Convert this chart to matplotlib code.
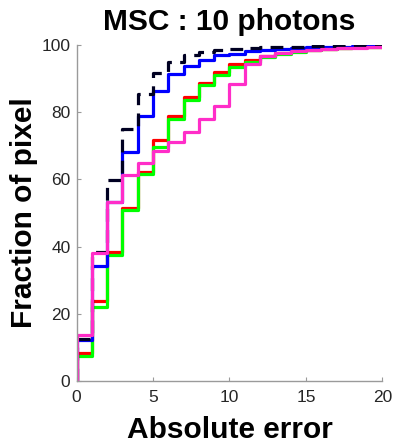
import matplotlib
matplotlib.use("Agg")
import matplotlib.pyplot as plt
import numpy as np

plt.rcParams['font.family'] = ['Liberation Sans', 'DejaVu Sans']

# cumulative fraction of pixels (%) with absolute error below each integer bin
err_bins = np.arange(0, 21)
frac_black = [12.5, 38.4, 59.8, 75.0, 85.4, 91.7, 95.0, 97.0, 98.0, 98.6,
              99.0, 99.2, 99.4, 99.5, 99.6, 99.7, 99.7, 99.8, 99.8, 99.9]
frac_blue = [12.2, 34.2, 53.3, 68.2, 79.0, 86.3, 91.5, 93.8, 95.7, 97.0,
             97.5, 98.3, 98.7, 99.0, 99.2, 99.4, 99.5, 99.6, 99.7, 99.8]
frac_red = [8.3, 23.8, 38.5, 51.5, 62.3, 71.7, 78.9, 84.6, 88.8, 92.1,
            94.3, 95.7, 96.8, 97.6, 98.2, 98.6, 98.9, 99.2, 99.4, 99.6]
frac_green = [7.4, 22.1, 37.5, 51.0, 61.6, 69.7, 77.9, 83.8, 88.1, 91.1,
              93.5, 95.0, 96.4, 97.4, 98.0, 98.5, 98.9, 99.2, 99.4, 99.6]
frac_pink = [13.7, 38.0, 53.4, 61.3, 65.0, 68.5, 71.2, 74.2, 77.9, 82.0,
             88.5, 94.3, 96.8, 97.7, 98.2, 98.6, 98.9, 99.1, 99.3, 99.5]


def draw_cdf(ax, vals, **kw):
    x = np.r_[0, err_bins]
    y = np.r_[0, vals, vals[-1]]
    ax.step(x, y, where='post', **kw)


fig = plt.figure(figsize=(3.95, 4.43), dpi=100)
ax = fig.add_axes([0.194, 0.1406, 0.774, 0.7574])

lw = 2.3
draw_cdf(ax, frac_red, color='#FF0000', lw=lw)
draw_cdf(ax, frac_green, color='#00FF00', lw=lw)
draw_cdf(ax, frac_blue, color='#0000FF', lw=lw)
draw_cdf(ax, frac_black, color='#000022', lw=lw, dashes=(4, 2.6))
draw_cdf(ax, frac_pink, color='#FF2DC8', lw=lw)

ax.set_xlim(0, 20)
ax.set_ylim(0, 100)
ax.set_xticks([0, 5, 10, 15, 20])
ax.set_yticks([0, 20, 40, 60, 80, 100])
ax.tick_params(direction='in', length=3, width=0.8, color='#9a9a9a',
               labelsize=12.5, labelcolor='#262626')
ax.tick_params(axis='x', pad=6.5)
ax.tick_params(axis='y', pad=4.5)
for side in ['top', 'right']:
    ax.spines[side].set_visible(False)
for side in ['left', 'bottom']:
    ax.spines[side].set_color('#9a9a9a')
    ax.spines[side].set_linewidth(1.0)

ax.set_title('MSC : 10 photons', fontsize=21.5, fontweight='bold',
             y=1.0447, pad=0, va='baseline')
ax.set_xlabel('Absolute error', fontsize=21.5, fontweight='bold')
ax.xaxis.label.set_va('baseline')
ax.xaxis.set_label_coords(0.5, -0.171)
ax.set_ylabel('Fraction of pixel', fontsize=21.5, fontweight='bold')
ax.yaxis.set_label_coords(-0.126, 0.5)

fig.savefig('out.png', dpi=100, facecolor='white')
